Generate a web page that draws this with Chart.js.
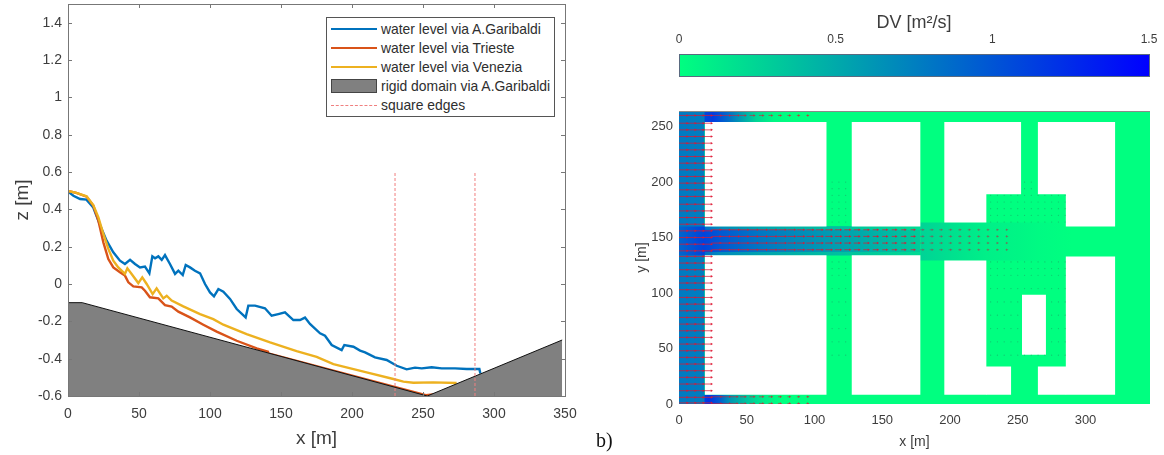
<!DOCTYPE html>
<html>
<head>
<meta charset="utf-8">
<title>water level and DV</title>
<script src="https://cdn.jsdelivr.net/npm/chart.js@4"></script>
<style>
    html, body { margin: 0; padding: 0; background: #fff; }
    body { position: relative; width: 1164px; height: 455px; overflow: hidden; font-family: "Liberation Sans", Arial, sans-serif; }
    canvas { position: absolute; }
    #profile { left: 0; top: 0; }
    #field { left: 620px; top: 0; }
    #bar { left: 620px; top: 0; }
    #legend { position: absolute; left: 326px; top: 17px; width: 227px; height: 98px; border: 1px solid #555; background: #fff; box-sizing: content-box; }
    #legend .row { position: absolute; left: 0; height: 19px; line-height: 19px; font-size: 13.9px; color: #2e2e2e; white-space: nowrap; }
    #legend .swatch { position: absolute; left: 4px; width: 46px; }
    #legend .name { position: absolute; left: 54px; }
    #panel-b { position: absolute; left: 596px; top: 429px; font: 20px "Liberation Serif", serif; color: #111; }
</style>
</head>
<body>
<canvas id="profile" width="620" height="455"></canvas>
<canvas id="field" width="544" height="455"></canvas>
<canvas id="bar" width="544" height="90"></canvas>
<div id="legend"></div>
<div id="panel-b">b)</div>

<script>
// --- left plot: water levels along the street ---
const blueX = [0, 3.8, 8.5, 13, 17.8, 21.4, 23.7, 27.2, 31.9, 36.6, 40.1, 43.7, 47.2, 50.7, 54.2, 57.3, 59.4, 61.3, 63.6, 66, 68.3, 71.8, 75.4, 77.7, 80.8, 82.9, 85.9, 89.4, 93, 96.5, 100, 102.8, 105.9, 109.4, 114.1, 118.8, 125.1, 127, 131.7, 138.7, 143.4, 148.1, 152.8, 158.7, 163.4, 166.9, 170.4, 177.5, 181, 185.7, 192.7, 194.6, 201, 205.7, 209.2, 216.2, 224.4, 231.5, 238.5, 244.4, 249.1, 256.1, 263.2, 272.6, 280.8, 289.7, 290.4];
const blueZ = [0.495, 0.473, 0.455, 0.452, 0.41, 0.339, 0.295, 0.232, 0.17, 0.125, 0.107, 0.129, 0.107, 0.089, 0.093, 0.057, 0.148, 0.138, 0.148, 0.129, 0.155, 0.107, 0.054, 0.071, 0.048, 0.102, 0.089, 0.071, 0.057, 0, -0.045, -0.066, -0.027, -0.041, -0.08, -0.134, -0.179, -0.116, -0.116, -0.13, -0.17, -0.161, -0.152, -0.193, -0.193, -0.18, -0.214, -0.264, -0.277, -0.327, -0.354, -0.327, -0.336, -0.357, -0.366, -0.393, -0.407, -0.438, -0.457, -0.448, -0.452, -0.446, -0.452, -0.452, -0.455, -0.455, -0.479];

const triesteX = [0, 5.9, 13.1, 17.8, 21.4, 24.9, 28.4, 31.9, 36.6, 40.1, 42.5, 46, 51.9, 54.2, 57.7, 63.6, 68.3, 73, 77.7, 85.9, 95.3, 104.7, 118.8, 132.9, 140.8, 141, 252, 257];
const triesteZ = [0.498, 0.488, 0.468, 0.42, 0.339, 0.223, 0.134, 0.089, 0.063, 0.045, 0.009, -0.013, -0.018, -0.036, -0.071, -0.077, -0.113, -0.121, -0.148, -0.179, -0.218, -0.255, -0.304, -0.345, -0.363, -0.372, -0.596, -0.592];

const veneziaX = [0, 5.9, 13.1, 17.8, 21.4, 24.9, 28.4, 31.9, 35.4, 40.1, 41.8, 44.8, 49.5, 52.3, 55.4, 59.6, 62.4, 67.1, 69.5, 73, 81.2, 93, 102.3, 109.4, 125.8, 142.3, 161, 175.1, 186.9, 210.3, 229.1, 236.2, 243.2, 257.3, 273.7];
const veneziaZ = [0.498, 0.488, 0.47, 0.423, 0.357, 0.268, 0.188, 0.125, 0.089, 0.054, 0.084, 0.054, 0.005, 0.036, 0, -0.054, -0.023, -0.077, -0.063, -0.089, -0.12, -0.161, -0.188, -0.218, -0.268, -0.313, -0.36, -0.39, -0.429, -0.473, -0.509, -0.523, -0.529, -0.527, -0.53];

const groundX = [0, 10, 253, 348];
const groundZ = [-0.1, -0.1, -0.6, -0.3];

const edgeX = [230.3, 286.6];
const edgeZ = [-0.6, 0.6];

const profileXTicks = [0, 50, 100, 150, 200, 250, 300, 350];
const profileZTicks = [-0.6, -0.4, -0.2, 0, 0.2, 0.4, 0.6, 0.8, 1, 1.2, 1.4];

const legendLabels = ["water level via A.Garibaldi", "water level via Trieste", "water level via Venezia", "rigid domain via A.Garibaldi", "square edges"];

// --- right plot: buildings as [x0, x1, y0, y1] in metres ---
const buildings = [
    [19, 109, 160, 254], [19, 109, 8.4, 134],
    [127.3, 178.3, 160, 254], [127.3, 178.3, 8.4, 134],
    [195.7, 227, 163.6, 254], [226.5, 252.6, 189, 254],
    [264.7, 285.8, 189, 254], [285.3, 322, 160, 254],
    [195.7, 227, 8.4, 129.4], [226.5, 245.2, 8.4, 33.9],
    [264.7, 285.8, 8.4, 33.9], [285.3, 322, 8.4, 133],
    [253.1, 270.8, 44.4, 98.5]
];
const fieldMaxX = 347.6;
const fieldMaxY = 264;

// DV along the streets
const channelX = [0, 19];
const channelDv = [0.78, 0.76];
const topStreetX = [0, 12, 25, 35, 45, 57, 70, 85];
const topStreetDv = [0.78, 1.0, 1.15, 0.9, 0.6, 0.25, 0.05, 0];
const bottomStreetX = [0, 12, 22, 30, 38, 50, 62, 75];
const bottomStreetDv = [0.78, 1.0, 1.2, 0.95, 0.6, 0.35, 0.12, 0];
const midStreetX = [0, 18, 30, 60, 108, 135, 162, 178];
const midStreetDv = [0.9, 1.1, 0.98, 0.8, 0.6, 0.5, 0.38, 0.3];
const midEdgeX = [19, 30, 60, 108, 135, 162, 178];
const midEdgeDv = [0.85, 0.7, 0.55, 0.4, 0.33, 0.26, 0.22];
const midWideX = [178, 200, 227, 250, 265, 290];
const midWideDv = [0.26, 0.18, 0.09, 0.06, 0.03, 0];

// quiver rows
const channelRowY = [260, 253, 247, 241, 235, 229, 223, 217, 211, 205, 199, 193, 187, 180, 174, 168, 162, 156, 150, 144, 138, 133, 127, 121, 115, 109, 103, 96, 90, 84, 78, 72, 66, 60, 54, 48, 42, 36, 30, 24, 18, 12, 6, 1];
const channelArrowX = [0, 6, 12, 18];
const channelArrowLen = [6, 6, 6, 6];
const midRowY = [157, 151, 145, 139];
const midArrowX = [24, 31, 38, 45, 52, 59, 66, 73, 80, 87, 94, 101, 108, 115, 122, 129, 136, 143, 150, 157, 164, 171];
const midArrowLen = [6.5, 6.3, 6.2, 6, 6, 5.8, 5.8, 5.6, 5.5, 5.2, 5, 4.8, 4.6, 4.4, 4.2, 4, 3.8, 3.6, 3.4, 3.2, 3, 2.8];
const midFaintX = [178, 185, 192, 199, 206, 213, 220, 227, 234, 241];
const midFaintLen = [2.2, 2, 1.8, 1.7, 1.6, 1.5, 1.4, 1.2, 1.1, 1];
const topRowY = [260];
const topArrowX = [24, 31, 38, 45, 52, 59, 66, 73, 80, 87, 94];
const topArrowLen = [7, 6.5, 6, 4, 3.5, 3, 2.5, 2, 1.8, 1.5, 1.2];
const bottomRowY = [6.5, 0.5];
const bottomArrowX = [24, 31, 38, 45, 52, 59, 66, 73, 80, 87, 94];
const bottomArrowLen = [7, 6.5, 5, 4, 3.5, 3, 2.5, 2, 1.8, 1.5, 1.2];
const dotX = [113, 118, 123, 200, 205, 210, 215, 220, 225, 230, 235, 240, 245, 250, 255, 260, 265, 270, 275, 280, 285];
const dotY = [44, 56, 68, 80, 92, 104, 116, 122, 128, 164, 170, 176, 182, 188, 194, 200];

const dvTicks = [0, 0.5, 1, 1.5];
const dvRange = [0, 1.5];
const fieldXTicks = [0, 50, 100, 150, 200, 250, 300];
const fieldYTicks = [0, 50, 100, 150, 200, 250];

const TEXT = "#3d3d3d";
const BLUE = "#0072BD";
const ORANGE = "#D95319";
const YELLOW = "#EDB120";
const GREEN = "#00FF80";
const RED = "rgba(222,22,50,0.9)";

function pts(xs, ys) {
    return xs.map((x, i) => ({ x, y: ys[i] }));
}

// winter colormap: 0 -> spring green, 1.5 -> blue
function dvColor(v) {
    const t = Math.min(v / 1.5, 1);
    return `rgb(0,${Math.round(255 * (1 - t))},${Math.round(128 + 127 * t)})`;
}

function dvGradient(xs, dv) {
    return function (ctx) {
        const chart = ctx.chart;
        if (!chart.chartArea || !chart.scales.x) return "transparent";
        const sc = chart.scales.x;
        const x0 = sc.getPixelForValue(xs[0]);
        const x1 = sc.getPixelForValue(xs[xs.length - 1]);
        const g = chart.ctx.createLinearGradient(x0, 0, x1, 0);
        xs.forEach((x, i) => g.addColorStop((x - xs[0]) / (xs[xs.length - 1] - xs[0]), dvColor(dv[i])));
        return g;
    };
}

function streetSet(xs, dv, y0, y1) {
    return {
        data: xs.map(x => ({ x, y: y1 })),
        showLine: true, pointRadius: 0, borderWidth: 0,
        backgroundColor: dvGradient(xs, dv),
        fill: { target: { value: y0 } }
    };
}

function quiverSet(rows, xs, lens, color) {
    const data = [];
    rows.forEach(y => xs.forEach((x, i) => {
        data.push({ x, y }, { x: x + lens[i], y }, { x: NaN, y: NaN });
    }));
    return {
        data, showLine: true, borderColor: color, borderWidth: 0.8, spanGaps: false,
        pointStyle: "triangle", pointRotation: 90, pointBorderWidth: 0,
        pointBackgroundColor: color,
        pointRadius: ctx => (ctx.dataIndex % 3 === 1 ? 1.5 : 0)
    };
}

function inBuilding(x, y) {
    return buildings.some(b => x > b[0] && x < b[1] && y > b[2] && y < b[3]);
}

const dots = [];
dotX.forEach(x => dotY.forEach(y => {
    if (!inBuilding(x, y)) dots.push({ x, y });
}));

// box and inward ticks like the original figure
const boxTicks = {
    id: "boxTicks",
    afterDraw(chart) {
        const { ctx, chartArea: a, scales } = chart;
        ctx.save();
        ctx.strokeStyle = "#777";
        ctx.lineWidth = 1;
        ctx.strokeRect(a.left + 0.5, a.top + 0.5, a.right - a.left, a.bottom - a.top);
        ctx.beginPath();
        scales.x.ticks.forEach(t => {
            const px = Math.round(scales.x.getPixelForValue(t.value)) + 0.5;
            ctx.moveTo(px, a.bottom); ctx.lineTo(px, a.bottom - 4);
            ctx.moveTo(px, a.top); ctx.lineTo(px, a.top + 4);
        });
        scales.y.ticks.forEach(t => {
            const py = Math.round(scales.y.getPixelForValue(t.value)) + 0.5;
            ctx.moveTo(a.left, py); ctx.lineTo(a.left + 4, py);
            ctx.moveTo(a.right, py); ctx.lineTo(a.right - 4, py);
        });
        ctx.stroke();
        ctx.restore();
    }
};

const topLine = {
    id: "topLine",
    afterDraw(chart) {
        const { ctx, chartArea: a } = chart;
        ctx.save();
        ctx.strokeStyle = "#8a8a8a";
        ctx.beginPath();
        ctx.moveTo(a.left, a.top + 0.5);
        ctx.lineTo(a.right, a.top + 0.5);
        ctx.stroke();
        ctx.restore();
    }
};

function fixedX(height) {
    return function (s) {
        s.height = height;
        s.paddingLeft = 0; s.paddingRight = 0;
    };
}

function fixedY(width) {
    return function (s) {
        s.width = width;
        s.paddingTop = 0; s.paddingBottom = 0;
    };
}

function useTicks(list) {
    return function (s) {
        s.ticks = list.map(value => ({ value }));
    };
}

const noGrid = { display: false, drawTicks: false };

new Chart(document.getElementById("profile"), {
    type: "scatter",
    data: {
        datasets: [
            { label: legendLabels[4], data: pts([edgeX[0], edgeX[0]], edgeZ), showLine: true, pointRadius: 0, borderColor: "#f07f7f", borderWidth: 1, borderDash: [3, 2] },
            { label: legendLabels[4], data: pts([edgeX[1], edgeX[1]], edgeZ), showLine: true, pointRadius: 0, borderColor: "#f07f7f", borderWidth: 1, borderDash: [3, 2] },
            { label: legendLabels[3], data: pts(groundX, groundZ), showLine: true, pointRadius: 0, borderColor: "#111", borderWidth: 1, backgroundColor: "#808080", fill: { target: { value: -0.6 } } },
            { label: legendLabels[2], data: pts(veneziaX, veneziaZ), showLine: true, pointRadius: 0, borderColor: YELLOW, borderWidth: 2.4 },
            { label: legendLabels[1], data: pts(triesteX, triesteZ), showLine: true, pointRadius: 0, borderColor: ORANGE, borderWidth: 2.4 },
            { label: legendLabels[0], data: pts(blueX, blueZ), showLine: true, pointRadius: 0, borderColor: BLUE, borderWidth: 2.4 }
        ]
    },
    options: {
        responsive: false,
        animation: false,
        layout: { padding: { top: 4, right: 55 } },
        plugins: { legend: { display: false }, tooltip: { enabled: false } },
        scales: {
            x: {
                type: "linear", min: 0, max: 350,
                grid: noGrid, border: { display: false },
                afterFit: fixedX(59),
                afterBuildTicks: useTicks(profileXTicks),
                ticks: { color: TEXT, font: { family: "Liberation Sans", size: 14 }, padding: 10, maxRotation: 0, autoSkip: false, callback: v => String(v) },
                title: { display: true, text: "x [m]", color: TEXT, font: { family: "Liberation Sans", size: 19 }, padding: { top: 1, bottom: 5 } }
            },
            y: {
                type: "linear", min: -0.6, max: 1.5,
                grid: noGrid, border: { display: false },
                afterFit: fixedY(68),
                afterBuildTicks: useTicks(profileZTicks),
                ticks: { color: TEXT, font: { family: "Liberation Sans", size: 14 }, padding: 6, autoSkip: false, callback: v => String(v) },
                title: { display: true, text: "z [m]", color: TEXT, font: { family: "Liberation Sans", size: 19 }, padding: { top: 11, bottom: 0 } }
            }
        }
    },
    plugins: [boxTicks]
});

const buildingSets = buildings.map(b => ({
    data: [{ x: b[0], y: b[3] }, { x: b[1], y: b[3] }],
    showLine: true, pointRadius: 0, borderWidth: 0,
    backgroundColor: "#fff",
    fill: { target: { value: b[2] } }
}));

new Chart(document.getElementById("field"), {
    type: "scatter",
    data: {
        datasets: [
            quiverSet(channelRowY, channelArrowX, channelArrowLen, RED),
            quiverSet(midRowY, midArrowX, midArrowLen, RED),
            quiverSet(midRowY, midFaintX, midFaintLen, "rgba(170,50,70,0.55)"),
            quiverSet(topRowY, topArrowX, topArrowLen, "rgba(215,30,50,0.75)"),
            quiverSet(bottomRowY, bottomArrowX, bottomArrowLen, "rgba(215,30,50,0.75)"),
            { data: dots, pointRadius: 0.6, pointBorderWidth: 0, pointBackgroundColor: "rgba(40,120,90,0.45)" },
            ...buildingSets,
            streetSet(midEdgeX, midEdgeDv, 134, 137),
            streetSet(midEdgeX, midEdgeDv, 157, 160),
            streetSet(midStreetX, midStreetDv, 134, 160),
            streetSet(midWideX, midWideDv, 129.4, 163.6),
            streetSet(channelX, channelDv, 0, fieldMaxY),
            streetSet(topStreetX, topStreetDv, 254, fieldMaxY),
            streetSet(bottomStreetX, bottomStreetDv, 0, 8.4),
            {
                data: [{ x: 0, y: fieldMaxY }, { x: fieldMaxX, y: fieldMaxY }],
                showLine: true, pointRadius: 0, borderWidth: 0,
                backgroundColor: GREEN, fill: { target: { value: 0 } }
            }
        ]
    },
    options: {
        responsive: false,
        animation: false,
        layout: { padding: { top: 111, right: 14 } },
        plugins: { legend: { display: false }, tooltip: { enabled: false } },
        scales: {
            x: {
                type: "linear", min: 0, max: fieldMaxX,
                grid: noGrid, border: { display: false },
                afterFit: fixedX(51),
                afterBuildTicks: useTicks(fieldXTicks),
                ticks: { color: TEXT, font: { family: "Liberation Sans", size: 13 }, padding: 9, maxRotation: 0, autoSkip: false, callback: v => String(v) },
                title: { display: true, text: "x [m]", color: TEXT, font: { family: "Liberation Sans", size: 14 }, padding: { top: 2, bottom: 4 } }
            },
            y: {
                type: "linear", min: 0, max: fieldMaxY,
                grid: noGrid, border: { display: false },
                afterFit: fixedY(59),
                afterBuildTicks: useTicks(fieldYTicks),
                ticks: { color: TEXT, font: { family: "Liberation Sans", size: 13 }, padding: 6, autoSkip: false, callback: v => String(v) },
                title: { display: true, text: "y [m]", color: TEXT, font: { family: "Liberation Sans", size: 14 }, padding: { top: 14, bottom: 0 } }
            }
        }
    },
    plugins: [topLine]
});

new Chart(document.getElementById("bar"), {
    type: "scatter",
    data: {
        datasets: [{
            data: dvRange.map(x => ({ x, y: 1 })),
            showLine: true, pointRadius: 0, borderWidth: 0,
            backgroundColor: dvGradient(dvRange, dvRange),
            fill: { target: { value: 0 } }
        }]
    },
    options: {
        responsive: false,
        animation: false,
        layout: { padding: { left: 59, right: 15, bottom: 14 } },
        plugins: { legend: { display: false }, tooltip: { enabled: false } },
        scales: {
            x: {
                type: "linear", position: "top", min: 0, max: 1.5,
                grid: noGrid, border: { display: false },
                afterFit: fixedX(54),
                afterBuildTicks: useTicks(dvTicks),
                ticks: { color: TEXT, font: { family: "Liberation Sans", size: 12 }, padding: 7, maxRotation: 0, autoSkip: false, callback: v => String(v) },
                title: { display: true, text: "DV [m²/s]", color: TEXT, font: { family: "Liberation Sans", size: 18 }, padding: { top: 12, bottom: 2 } }
            },
            y: { type: "linear", min: 0, max: 1, display: false }
        }
    },
    plugins: [{
        id: "barEdge",
        afterDraw(chart) {
            const { ctx, chartArea: a } = chart;
            ctx.save();
            ctx.strokeStyle = "#5a6a80";
            ctx.strokeRect(a.left + 0.5, a.top + 0.5, a.right - a.left, a.bottom - a.top);
            ctx.restore();
        }
    }]
});

// legend box, same order as the original
const legendSwatches = [
    { height: 2, top: 8, background: BLUE },
    { height: 2, top: 8, background: ORANGE },
    { height: 2, top: 8, background: YELLOW },
    { height: 14, top: 2, background: "#808080", border: "1px solid #444" },
    { height: 0, top: 9, borderTop: "1px dashed #f07f7f" }
];
const legendBox = document.getElementById("legend");
legendLabels.forEach((label, i) => {
    const row = document.createElement("div");
    row.className = "row";
    row.style.top = (2 + i * 19) + "px";
    const sw = document.createElement("div");
    sw.className = "swatch";
    const s = legendSwatches[i];
    sw.style.height = s.height + "px";
    sw.style.top = s.top + "px";
    if (s.background) sw.style.background = s.background;
    if (s.border) { sw.style.border = s.border; sw.style.boxSizing = "border-box"; }
    if (s.borderTop) sw.style.borderTop = s.borderTop;
    const name = document.createElement("div");
    name.className = "name";
    name.textContent = label;
    row.appendChild(sw);
    row.appendChild(name);
    legendBox.appendChild(row);
});
</script>
</body>
</html>
